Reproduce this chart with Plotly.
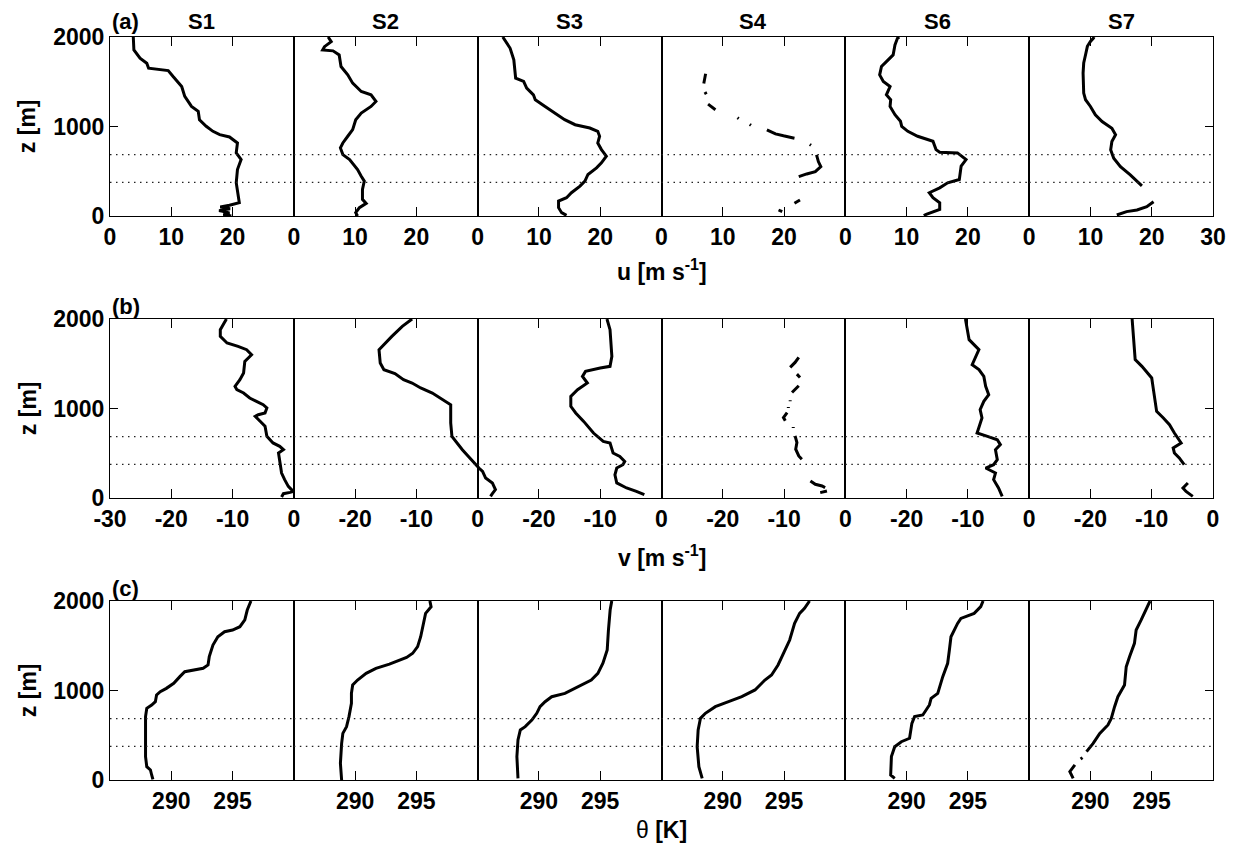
import plotly.graph_objects as go
from plotly.subplots import make_subplots

STATIONS = ["S1", "S2", "S3", "S4", "S6", "S7"]
ROW_TAGS = ["(a)", "(b)", "(c)"]
X_TITLES = ["<b>u [m s<sup>-1</sup>]</b>", "<b>v [m s<sup>-1</sup>]</b>", "θ <b>[K]</b>"]
Y_TITLE = "<b>z [m]</b>"
BL_HEIGHTS = [685, 375]

Z_TICKS = [0, 1000, 2000]
U_RANGE = [0, 30]
V_RANGE = [-30, 0]
T_RANGE = [285, 300]
U_TICKS_FIRST = [0, 10, 20]
U_TICKS_LAST = [0, 10, 20, 30]
V_TICKS_FIRST = [-30, -20, -10, 0]
V_TICKS_OTHER = [-20, -10, 0]
T_TICKS = [290, 295]

# ---------------- u profiles ----------------
ZU_S1 = [2000, 1855, 1763, 1707, 1651, 1640, 1625, 1558, 1447, 1336, 1224, 1169, 1076, 1002, 946, 909, 883, 816,
         705, 631, 519, 371, 260, 148, 120, 100, 80, 60, 35, 15, 0]
U_S1 = [3.8, 3.9, 4.9, 6.0, 6.3, 7.6, 9.5, 10.3, 11.7, 12.2, 13.3, 14.4, 14.6, 15.7, 16.8, 17.9, 19.5, 20.8,
        20.6, 21.4, 20.8, 20.6, 20.8, 21.1, 19.5, 18.0, 19.6, 17.8, 19.5, 18.5, 19.8]

ZU_S2 = [2000, 1948, 1892, 1855, 1845, 1800, 1670, 1577, 1484, 1429, 1391, 1354, 1280, 1224, 1150, 1076, 965, 891,
         816, 761, 686, 631, 519, 445, 390, 297, 186, 141, 93, 37, 0]
U_S2 = [5.6, 6.1, 5.0, 4.7, 6.4, 7.4, 7.7, 8.8, 9.6, 10.4, 11.0, 12.6, 13.4, 12.6, 11.0, 10.1, 9.6, 8.8,
        8.0, 7.6, 8.0, 9.1, 10.4, 11.0, 11.5, 11.2, 11.2, 11.8, 10.7, 10.1, 10.4]

ZU_S3 = [2000, 1874, 1744, 1540, 1503, 1429, 1354, 1299, 1224, 1150, 1076, 1020, 983, 946, 891, 816, 742, 668,
         594, 538, 464, 390, 334, 260, 204, 167, 93, 37, 7]
U_S3 = [4.1, 5.3, 5.9, 6.2, 7.5, 8.0, 9.1, 9.4, 11.0, 12.6, 14.2, 15.9, 18.3, 19.6, 19.9, 19.6, 20.2, 21.0,
        20.2, 19.4, 18.0, 17.5, 16.7, 15.3, 14.5, 13.2, 13.2, 13.7, 14.5]

ZU_S4 = [1590, 1480, None, 1385, 1360, None, 1250, 1187, None, 1098, 1088, None, 1024, 1014, None,
         963, 918, 896, 869, None, 800, 790, None, 683, 608, 552, 496, 470, 440, None, 179, 142, None, 67, 49]
U_S4 = [7.2, 6.9, None, 7.1, 7.3, None, 7.6, 8.8, None, 12.4, 12.6, None, 14.4, 14.6, None,
        17.2, 18.6, 19.9, 21.7, None, 24.2, 24.4, None, 25.3, 25.6, 26.0, 25.1, 23.7, 22.4, None, 22.6, 21.7, None, 19.1, 19.7]

ZU_S6 = [2000, 1985, 1911, 1800, 1725, 1670, 1577, 1503, 1447, 1354, 1299, 1224, 1132, 1058, 1002, 946, 891, 835,
         742, 712, 705, 631, 557, 408, 371, 315, 260, 204, 148, 74, 19, 5]
U_S6 = [8.8, 8.5, 8.1, 7.8, 6.7, 5.9, 5.6, 6.2, 7.3, 6.7, 7.4, 7.3, 8.1, 9.0, 9.2, 10.2, 11.8, 14.3,
        14.8, 15.4, 18.3, 19.7, 18.9, 18.6, 16.7, 15.4, 13.7, 14.3, 15.4, 15.4, 13.2, 12.8]

ZU_S7 = [2000, 1989, 1951, 1896, 1802, 1709, 1597, 1485, 1373, 1299, 1224, 1131, 1056, 981, 907, 832, 739, 646,
         552, 459, 384, 336, None, 160, 104, 67, 49, 11]
U_S7 = [10.6, 10.5, 10.0, 9.5, 9.2, 8.9, 8.8, 8.9, 8.9, 9.2, 10.0, 10.8, 11.9, 13.5, 14.1, 13.5, 13.3, 13.8,
        14.9, 16.5, 17.6, 18.4, None, 20.3, 19.2, 17.6, 15.9, 14.3]

# ---------------- v profiles ----------------
ZV_S1 = [2000, 1881, 1806, 1732, 1695, 1657, 1601, 1527, 1397, 1322, 1248, 1210, 1173, 1117, 1080, 1043, 1006, 950,
         931, 912, 857, 801, 689, 615, 577, 540, 503, 391, 279, 205, 130, 74, 63, 48, 11]
V_S1 = [-11.0, -12.0, -12.0, -10.9, -9.1, -7.7, -6.9, -8.0, -8.2, -8.8, -9.6, -9.3, -8.2, -7.2, -6.1, -5.0, -4.4, -4.7,
        -5.8, -6.3, -5.5, -4.7, -4.4, -3.4, -2.3, -1.7, -2.5, -2.3, -2.0, -1.5, -0.9, -0.1, -0.6, -1.7, -2.0]

ZV_S2 = [2000, 1918, 1806, 1732, 1657, 1508, 1434, 1390, 1322, 1285, 1229, 1173, 1098, 1042, 838, 688, 540, 428,
         335, 298, 223, 168, 93, 48, 18]
V_S2 = [-10.7, -12.3, -14.0, -15.0, -16.1, -15.9, -15.3, -13.5, -12.1, -10.7, -9.3, -7.4, -5.8, -4.4, -4.4, -4.2,
        -2.5, -1.1, 0.2, 0.8, 1.3, 2.4, 2.9, 2.4, 2.1]

ZV_S3 = [2000, 1881, 1583, 1471, 1453, 1415, 1359, 1285, 1210, 1136, 1024, 950, 856, 726, 633, 615, 503, 465,
         409, 372, 335, 260, 168, 112, 74, 37]
V_S3 = [-8.9, -8.4, -8.1, -8.4, -10.0, -12.4, -12.9, -12.1, -13.7, -14.8, -14.8, -14.0, -12.7, -11.1, -9.5, -8.4,
        -7.9, -6.8, -6.0, -6.3, -7.3, -7.6, -7.3, -5.7, -4.1, -2.8]

ZV_S4 = [1571, 1515, 1459, None, 1384, 1347, None, 1254, 1198, 1179, None, 1091, 1081, None, 1016, 1006, None,
         955, 899, 862, None, 792, 782, None, 694, 619, 545, 470, 433, None, 190, 153, 134, 116, None, 60, 78]
V_S4 = [-7.6, -8.2, -9.0, None, -7.9, -7.4, None, -7.6, -8.5, -8.7, None, -9.0, -9.0, None, -9.3, -9.3, None,
        -9.5, -10.1, -9.8, None, -8.5, -8.5, None, -8.2, -7.9, -8.1, -7.6, -7.1, None, -5.7, -4.9, -3.8, -3.3, None, -4.1, -3.0]

ZV_S6 = [2000, 1881, 1769, 1658, 1583, 1490, 1434, 1359, 1247, 1154, 1080, 987, 894, 800, 726, 688, 651, 596,
         540, 428, 372, 335, 279, 205, 112, 18]
V_S6 = [-10.4, -10.1, -9.8, -8.2, -8.7, -9.3, -8.2, -7.4, -7.1, -6.6, -7.4, -8.0, -7.7, -8.2, -8.5, -6.8, -5.2, -4.7,
        -5.5, -5.2, -5.8, -7.1, -5.5, -5.8, -5.0, -4.4]

ZV_S7 = [2000, 1769, 1546, 1471, 1341, 1247, 1098, 968, 894, 819, 726, 615, 559, 503, 447, 372, None, 168, 112, 74, 18]
V_S7 = [-13.2, -13.0, -12.7, -11.6, -10.0, -9.8, -9.5, -9.2, -8.1, -7.1, -6.3, -5.2, -6.5, -6.3, -5.5, -4.7, None,
        -4.1, -4.9, -4.4, -3.3]

# ---------------- theta profiles ----------------
ZT_S1 = [2000, 1899, 1788, 1713, 1676, 1657, 1601, 1508, 1378, 1285, 1248, 1229, 1210, 1155, 1080, 1024, 987, 950,
         875, 838, 801, 708, 484, 261, 149, 112, 56, 7]
T_S1 = [296.5, 296.2, 296.0, 295.6, 295.0, 294.35, 293.8, 293.4, 293.1, 293.0, 292.6, 291.8, 291.1, 290.7, 290.2,
        289.6, 289.1, 288.8, 288.7, 288.4, 288.0, 287.9, 287.9, 287.9, 288.0, 288.3, 288.4, 288.5]

ZT_S2 = [2000, 1936, 1862, 1751, 1601, 1490, 1416, 1370, 1330, 1295, 1248, 1192, 1117, 1061, 968, 857, 708, 596,
         521, 410, 186, 0]
T_S2 = [296.1, 296.2, 295.75, 295.6, 295.35, 295.1, 294.7, 294.2, 293.5, 292.8, 291.7, 290.9, 290.2, 289.8, 289.7,
        289.7, 289.5, 289.3, 289.0, 288.9, 288.8, 288.9]

ZT_S3 = [2000, 1899, 1676, 1453, 1304, 1192, 1117, 1043, 968, 931, 875, 819, 745, 670, 596, 559, 447, 261, 19]
T_S3 = [295.94, 295.81, 295.67, 295.57, 295.22, 294.81, 294.27, 293.19, 292.12, 291.04, 290.5, 290.09, 289.82,
        289.42, 288.88, 288.48, 288.29, 288.2, 288.29]

ZT_S4 = [2000, 1918, 1862, 1750, 1564, 1415, 1285, 1173, 1117, 1006, 931, 875, 819, 745, 689, 559, 372, 149, 19]
T_S4 = [297.08, 296.67, 296.27, 295.86, 295.46, 294.92, 294.51, 293.98, 293.44, 292.63, 291.55, 290.47, 289.39,
        288.58, 288.18, 287.99, 287.91, 288.05, 288.32]

ZT_S6 = [2000, 1937, 1862, 1806, 1750, 1676, 1601, 1453, 1304, 1155, 968, 912, 838, 726, 708, 633, 466, 428, 372,
         261, 56, 19]
T_S6 = [296.24, 296.05, 295.51, 294.43, 294.16, 293.89, 293.62, 293.49, 293.35, 292.95, 292.54, 292.0, 291.86,
        291.32, 290.65, 290.43, 290.24, 289.57, 289.03, 288.76, 288.7, 289.03]

ZT_S7 = [2000, 1899, 1788, 1676, 1527, 1378, 1266, 1061, 931, 819, 689, 615, 521, 410, 317, None, 250, 235, None,
         168, 93, 19]
T_S7 = [294.86, 294.54, 294.14, 293.73, 293.59, 293.19, 292.92, 292.78, 292.24, 291.97, 291.7, 291.43, 290.76,
        290.22, 289.68, None, 289.35, 289.2, None, 288.73, 288.32, 288.59]

ROWS = [
    [(U_S1, ZU_S1), (U_S2, ZU_S2), (U_S3, ZU_S3), (U_S4, ZU_S4), (U_S6, ZU_S6), (U_S7, ZU_S7)],
    [(V_S1, ZV_S1), (V_S2, ZV_S2), (V_S3, ZV_S3), (V_S4, ZV_S4), (V_S6, ZV_S6), (V_S7, ZV_S7)],
    [(T_S1, ZT_S1), (T_S2, ZT_S2), (T_S3, ZT_S3), (T_S4, ZT_S4), (T_S6, ZT_S6), (T_S7, ZT_S7)],
]
X_RANGES = [U_RANGE, V_RANGE, T_RANGE]

W, H = 1238, 845
ML, MR, MT, MB = 110, 16, 37, 65
PW = W - ML - MR
PH = H - MT - MB

FONT_FAMILY = "Liberation Sans, Arial, Helvetica, sans-serif"
TICKFONT = dict(family=FONT_FAMILY, size=23, color="black", weight="bold")
LINE = dict(color="black", width=3)

fig = make_subplots(rows=3, cols=6, horizontal_spacing=0, vertical_spacing=103 / PH)

for r in range(3):
    for c in range(6):
        xs, zs = ROWS[r][c]
        if r == 1 and c == 1:
            # placeholder so the panel keeps its own frame; the profile itself is drawn below
            fig.add_trace(go.Scatter(x=[None], y=[None], mode="lines", line=LINE,
                                     showlegend=False, hoverinfo="skip"), row=r + 1, col=c + 1)
        else:
            fig.add_trace(go.Scatter(x=xs, y=zs, mode="lines", connectgaps=False, line=LINE,
                                     showlegend=False, hoverinfo="skip"), row=r + 1, col=c + 1)
        for h in BL_HEIGHTS:
            fig.add_hline(y=h, line=dict(color="#222222", width=1.3, dash="1.5px,4.5px"),
                          row=r + 1, col=c + 1)

        if r == 0:
            tv = U_TICKS_LAST if c == 5 else U_TICKS_FIRST
        elif r == 1:
            tv = V_TICKS_FIRST if c == 0 else V_TICKS_OTHER
        else:
            tv = T_TICKS
        fig.update_xaxes(range=X_RANGES[r], tickvals=tv, ticktext=[str(v) for v in tv],
                         ticks="inside", ticklen=9, tickwidth=1.2, tickcolor="black",
                         showline=True, linecolor="black", linewidth=1.2, mirror="ticks",
                         showgrid=False, zeroline=False, tickfont=TICKFONT,
                         row=r + 1, col=c + 1)
        yargs = dict(range=[0, 2000], tickvals=Z_TICKS, showline=True, linecolor="black",
                     linewidth=1.2, mirror=True, showgrid=False, zeroline=False,
                     tickfont=TICKFONT, ticklen=8, tickwidth=1.2, tickcolor="black")
        if c == 0:
            yargs.update(ticks="inside", showticklabels=True)
        elif c == 5:
            yargs.update(ticks="inside", showticklabels=False, side="right")
        else:
            yargs.update(ticks="", showticklabels=False)
        fig.update_yaxes(row=r + 1, col=c + 1, **yargs)

# S2 v profile runs past v = 0 into the neighbouring panel: draw it on a wider,
# hidden axis spanning panels 2-3 of row (b) with range -30..30 (0 at the divider).
fig.add_trace(go.Scatter(x=V_S2, y=ZV_S2, mode="lines", connectgaps=False, line=LINE,
                         showlegend=False, hoverinfo="skip", xaxis="x19", yaxis="y8"))
fig.update_layout(xaxis19=dict(domain=[1 / 6, 3 / 6], range=[-30, 30], anchor="y8",
                               visible=False, showgrid=False, zeroline=False))


def px_x(px):
    return (px - ML) / PW


def px_y(py):
    return (H - MB - py) / PH


ann = []
for c, s in enumerate(STATIONS):
    ann.append(dict(text="<b>%s</b>" % s, x=(c + 0.5) / 6, y=px_y(22), xref="paper", yref="paper",
                    xanchor="center", yanchor="middle", showarrow=False,
                    font=dict(family=FONT_FAMILY, size=22, color="black")))
tag_y = [22, 306, 588]
title_y = [270, 556, 830]
row_center = [126.5, 408.5, 690.5]
for r in range(3):
    ann.append(dict(text="<b>%s</b>" % ROW_TAGS[r], x=0, y=px_y(tag_y[r]), xref="paper", yref="paper",
                    xanchor="left", yanchor="middle", showarrow=False,
                    font=dict(family=FONT_FAMILY, size=22, color="black")))
    ann.append(dict(text=X_TITLES[r], x=0.5, y=px_y(title_y[r]), xref="paper", yref="paper",
                    xanchor="center", yanchor="middle", showarrow=False,
                    font=dict(family=FONT_FAMILY, size=23, color="black")))
    ann.append(dict(text=Y_TITLE, x=px_x(27), y=px_y(row_center[r]), xref="paper", yref="paper",
                    xanchor="center", yanchor="middle", textangle=-90, showarrow=False,
                    font=dict(family=FONT_FAMILY, size=23, color="black")))

fig.update_layout(width=W, height=H, margin=dict(l=ML, r=MR, t=MT, b=MB),
                  plot_bgcolor="rgba(0,0,0,0)", paper_bgcolor="white", annotations=ann,
                  showlegend=False, font=dict(family=FONT_FAMILY, color="black"))

fig.write_html("out.html", config={"displayModeBar": False})
